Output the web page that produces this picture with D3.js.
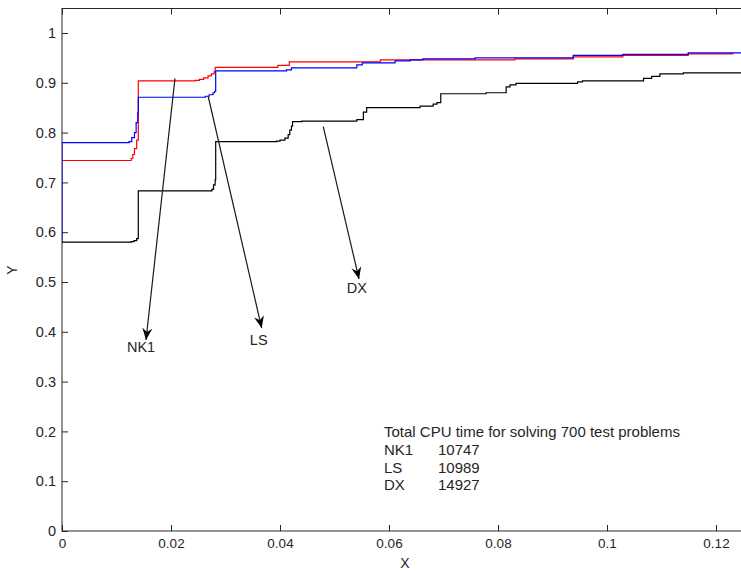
<!DOCTYPE html>
<html>
<head>
<meta charset="utf-8">
<script src="https://cdn.jsdelivr.net/npm/d3@7"></script>
<style>
  body { margin: 0; background: #fff; }
  svg { display: block; font-family: Arial, "Liberation Sans", sans-serif; }
</style>
</head>
<body>
<script>
// performance profiles, step points [x, y]
const nk1 = [[0,0.744],[0.0127,0.748],[0.0130,0.756],[0.0133,0.768],[0.0137,0.785],[0.0140,0.904],
  [0.0244,0.905],[0.0252,0.907],[0.0260,0.910],[0.0268,0.914],[0.0274,0.918],[0.0279,0.922],[0.0281,0.931],
  [0.0396,0.935],[0.0417,0.942],[0.0584,0.946],[0.0831,0.948],[0.0938,0.952],[0.1029,0.955],[0.1149,0.958],[0.1232,0.958]]
const ls = [[0,0.58],[0,0.78],[0.0123,0.782],[0.0128,0.79],[0.0133,0.80],[0.0136,0.82],[0.0139,0.84],[0.0140,0.871],
  [0.0263,0.873],[0.0270,0.876],[0.0277,0.880],[0.0280,0.883],[0.0282,0.924],[0.0412,0.926],[0.0421,0.930],
  [0.0541,0.936],[0.0551,0.940],[0.0611,0.944],[0.0639,0.946],[0.0662,0.948],[0.0758,0.950],[0.0938,0.955],
  [0.1029,0.957],[0.1149,0.960],[0.126,0.960]]
const dx = [[0,0.580],[0.0127,0.581],[0.0132,0.583],[0.0137,0.587],[0.0140,0.683],[0.0275,0.686],[0.0278,0.695],
  [0.0281,0.705],[0.0282,0.782],[0.0394,0.783],[0.0400,0.785],[0.0409,0.789],[0.0415,0.796],[0.0418,0.805],
  [0.0421,0.813],[0.0423,0.822],[0.0440,0.823],[0.0541,0.826],[0.0553,0.841],[0.0559,0.850],[0.0657,0.853],
  [0.0681,0.857],[0.0688,0.860],[0.0695,0.878],[0.0778,0.880],[0.0815,0.892],[0.0822,0.896],[0.0833,0.899],
  [0.0946,0.902],[0.0955,0.904],[0.1067,0.909],[0.1082,0.913],[0.1097,0.918],[0.1140,0.920],[0.126,0.920]]

const seriesNames = ["NK1", "LS", "DX"]
const seriesColors = ["#ff0000", "#0000ff", "#000000"]
// arrow annotations: [x0, y0, x1, y1] and label position
const arrowFrom = [[0.02073,0.909],[0.02684,0.872],[0.04794,0.812]]
const arrowTo = [[0.01541,0.3835],[0.03664,0.4076],[0.0545,0.506]]
const labelAt = [[0.0145,0.36],[0.0361,0.3735],[0.0541,0.478]]

const cpuTitle = "Total CPU time for solving 700 test problems"
const cpuTimes = [10747, 10989, 14927]

const xTicks = [0,0.02,0.04,0.06,0.08,0.1,0.12]
const yTicks = [0,0.1,0.2,0.3,0.4,0.5,0.6,0.7,0.8,0.9,1]

const W = 741, H = 571
const svg = d3.select("body").append("svg").attr("width", W).attr("height", H)

const x = d3.scaleLinear().domain([0, 0.125]).range([62, 743.25])
const y = d3.scaleLinear().domain([0, 1.05]).range([531, 8.1])
const ink = "#262626"

// frame
svg.append("rect").attr("x", 62).attr("y", 8.5).attr("width", 690).attr("height", 522.5)
  .attr("fill", "none").attr("stroke", ink).attr("stroke-width", 1)

const fmt = d3.format("~g")
const xAxis = svg.append("g").attr("transform", "translate(0,531)")
  .call(d3.axisBottom(x).tickValues(xTicks).tickFormat(fmt).tickSize(-6).tickPadding(7))
const xTop = svg.append("g").attr("transform", "translate(0,8.5)")
  .call(d3.axisTop(x).tickValues(xTicks).tickFormat("").tickSize(-6))
const yAxis = svg.append("g").attr("transform", "translate(62,0)")
  .call(d3.axisLeft(y).tickValues(yTicks).tickFormat(fmt).tickSize(-6).tickPadding(6))

svg.selectAll(".domain").remove()
svg.selectAll(".tick line").attr("stroke", ink)
svg.selectAll(".tick text").attr("fill", ink).attr("font-size", 13.5)
  .attr("font-family", "Arial, 'Liberation Sans', sans-serif")
xAxis.selectAll(".tick text").attr("dy", "0.75em")
yAxis.selectAll(".tick text").attr("font-size", 14.5)

svg.append("text").attr("x", 405).attr("y", 568).attr("text-anchor", "middle")
  .attr("font-size", 14).attr("fill", ink).text("X")
svg.append("text").attr("transform", "translate(17,270) rotate(-90)").attr("text-anchor", "middle")
  .attr("font-size", 14).attr("fill", ink).text("Y")

// curves
const line = d3.line().x(d => x(d[0])).y(d => y(d[1])).curve(d3.curveStepAfter)
const clip = svg.append("clipPath").attr("id", "clip").append("rect")
  .attr("x", 62).attr("y", 8).attr("width", 690).attr("height", 523)
const plot = svg.append("g").attr("clip-path", "url(#clip)")
;[nk1, ls, dx].forEach((s, i) => {
  plot.append("path").attr("d", line(s)).attr("fill", "none")
    .attr("stroke", seriesColors[i]).attr("stroke-width", 1.2)
})

// arrows
svg.append("defs").append("marker").attr("id", "head")
  .attr("viewBox", "-12 -6 14 12").attr("markerWidth", 14).attr("markerHeight", 12)
  .attr("markerUnits", "userSpaceOnUse").attr("refX", 0).attr("refY", 0).attr("orient", "auto")
  .append("path").attr("d", "M0,0 L-12,-5 L-8,0 L-12,5 Z").attr("fill", "#000")

seriesNames.forEach((n, i) => {
  svg.append("line")
    .attr("x1", x(arrowFrom[i][0])).attr("y1", y(arrowFrom[i][1]))
    .attr("x2", x(arrowTo[i][0])).attr("y2", y(arrowTo[i][1]))
    .attr("stroke", "#1a1a1a").attr("stroke-width", 1.2).attr("marker-end", "url(#head)")
  svg.append("text").attr("x", x(labelAt[i][0])).attr("y", y(labelAt[i][1]))
    .attr("text-anchor", "middle").attr("font-size", 14.5).attr("fill", ink).text(n)
})

// CPU time note
const note = svg.append("g").attr("font-size", 15).attr("fill", ink)
note.append("text").attr("x", 384).attr("y", 437).text(cpuTitle)
seriesNames.forEach((n, i) => {
  note.append("text").attr("x", 384).attr("y", 455 + i * 17.5).text(n)
  note.append("text").attr("x", 438).attr("y", 455 + i * 17.5).text(cpuTimes[i])
})
</script>
</body>
</html>
